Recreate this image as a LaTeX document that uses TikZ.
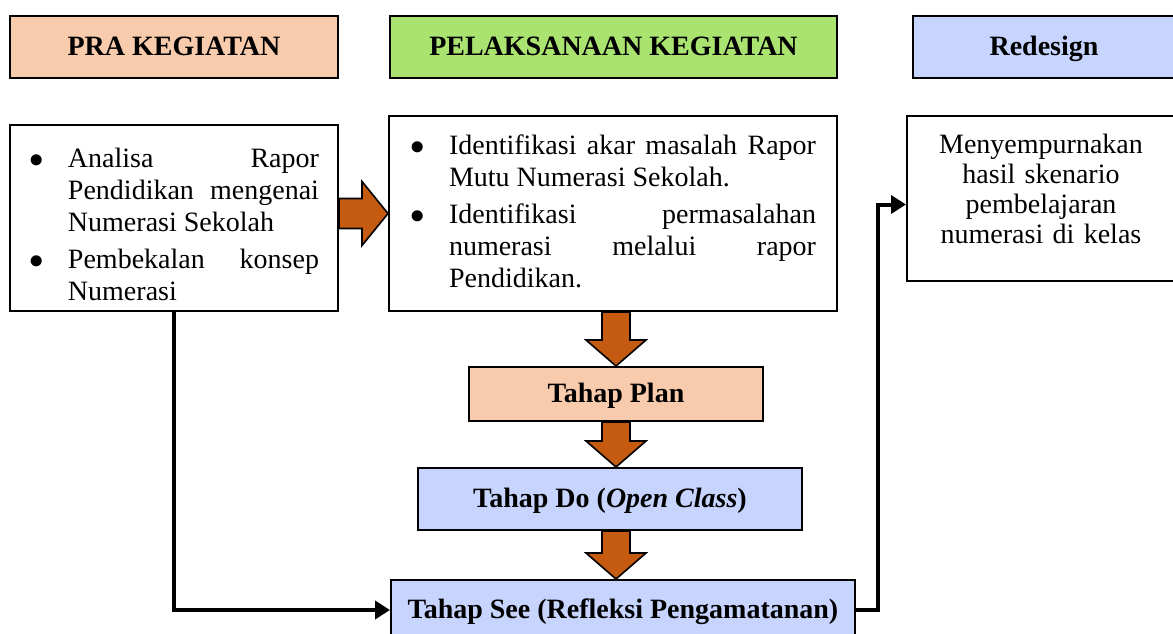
\documentclass[tikz,border=0pt]{standalone}
\usepackage{fontspec}
\setmainfont{Liberation Serif}
\usetikzlibrary{calc, arrows.meta}
\definecolor{prafill}{HTML}{F8CBAD}
\definecolor{pelfill}{HTML}{ABE371}
\definecolor{redfill}{HTML}{C6D4FE}
\definecolor{blockorange}{HTML}{C55A11}
% bullet line with hanging indent
\newcommand{\bitem}{\par\noindent\hangindent=19.5pt\hangafter=1\makebox[19.5pt][l]{$\bullet$}\ignorespaces}
\newcommand{\bitemsep}{\par\vspace{2.5pt}}
% fat block arrows between boxes
\newcommand{\blockdown}[2]{%
	\draw[bigarrow] let \p1=(#1), \p2=(#2) in
	(\x1-7pt,\y1) -- (\x1-7pt,\y2+13pt) -- (\x1-15pt,\y2+13pt) -- (\x1,\y2)
	-- (\x1+15pt,\y2+13pt) -- (\x1+7pt,\y2+13pt) -- (\x1+7pt,\y1) -- cycle;}
\newcommand{\blockright}[2]{%
	\draw[bigarrow] let \p1=(#1), \p2=(#2) in
	(\x1,\y1-7.5pt) -- (\x2-13pt,\y1-7.5pt) -- (\x2-13pt,\y1-16pt) -- (\x2,\y1)
	-- (\x2-13pt,\y1+16pt) -- (\x2-13pt,\y1+7.5pt) -- (\x1,\y1+7.5pt) -- cycle;}

\begin{document}
\begin{tikzpicture}[
	x=0.5pt, y=-0.5pt,
	>=Triangle,
	font=\fontsize{14pt}{16pt}\selectfont,
	% Styles for the boxes and connectors
	headbox/.style={draw=black, line width=1pt, font=\fontsize{14pt}{16pt}\selectfont\bfseries, minimum height=31pt, inner sep=0pt, text height=11pt, text depth=3pt},
	textbox/.style={draw=black, line width=1pt, fill=white, align=justify, inner ysep=0pt},
	stepbox/.style={draw=black, line width=1pt, font=\fontsize{14pt}{16pt}\selectfont\bfseries, inner sep=0pt, text height=11.5pt, text depth=3pt},
	bigarrow/.style={draw=black, line width=0.8pt, fill=blockorange, line join=miter},
	link/.style={draw=black, line width=2pt, -{Triangle[length=7.5pt, width=9pt]}}
	]
	\useasboundingbox (0,0) rectangle (1173,633);
	
	% ==========================================
	% 1. HEADERS
	% ==========================================
	\node[headbox, fill=prafill, minimum width=164pt] (pra) at (174,47) {PRA KEGIATAN};
	\node[headbox, fill=pelfill, minimum width=223.5pt] (pel) at (613.5,47) {PELAKSANAAN KEGIATAN};
	\node[headbox, fill=redfill, minimum width=131pt] (redesign) at (1044,47) {Redesign};
	
	% ==========================================
	% 2. TEXT BOXES
	% ==========================================
	\node[textbox, text width=145pt, inner xsep=9.5pt, minimum height=93pt] (pre) at (174,218) {%
		\bitem Analisa Rapor\linebreak Pendidikan mengenai\linebreak Numerasi Sekolah
		\bitemsep
		\bitem Pembekalan konsep\linebreak Numerasi\par};
	
	% last line gets extra depth to keep the text near the top
	\node[textbox, text width=203pt, inner xsep=10.5pt, minimum height=97.5pt] (mid) at (613,213.5) {%
		\bitem Identifikasi akar masalah Rapor\linebreak Mutu Numerasi Sekolah.
		\bitemsep
		\bitem Identifikasi permasalahan\linebreak numerasi melalui rapor\linebreak Pendidikan.\rule[-8.5pt]{0pt}{1pt}\par};
	
	\node[textbox, align=center, text width=120pt, inner xsep=7pt, minimum height=82.5pt,
		font=\fontsize{14pt}{15pt}\selectfont] (post) at (1041,198.5) {%
		Menyempurnakan\\ hasil skenario\\ pembelajaran\\ numerasi di kelas\\[-5pt]\mbox{}};
	
	% ==========================================
	% 3. STEPS
	% ==========================================
	\node[stepbox, fill=prafill, minimum width=147pt, minimum height=27pt] (plan) at (616,394) {Tahap Plan};
	\node[stepbox, fill=redfill, minimum width=192pt, minimum height=31pt] (do) at (610,499) {Tahap Do (\textit{Open Class})};
	\node[stepbox, fill=redfill, minimum width=232pt, minimum height=30pt] (see) at (623,610) {Tahap See (Refleksi Pengamatanan)};
	
	% Block arrows
	\blockright{pre.east |- mid.west}{mid.west}
	\blockdown{mid.south -| plan.north}{plan.north}
	\blockdown{plan.south}{do.north -| plan.south}
	\blockdown{do.south -| plan.south}{see.north -| plan.south}
	
	% Thin connectors
	\draw[link] (pre.south) |- (see.west);
	\draw[link] (see.east) -- ++(22,0) |- ([yshift=-3pt]post.west);
	
\end{tikzpicture}
\end{document}
